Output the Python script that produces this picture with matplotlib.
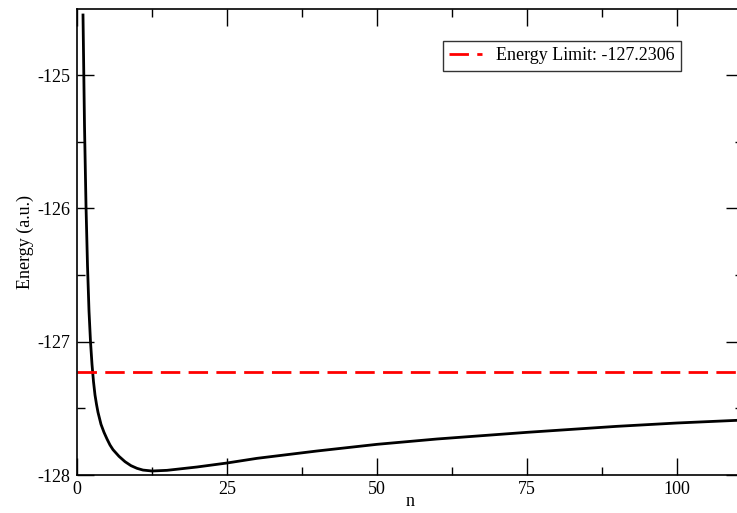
import matplotlib
matplotlib.use("Agg")
import matplotlib.pyplot as plt
from matplotlib.ticker import MultipleLocator

plt.rcParams['font.family'] = ['Liberation Serif', 'DejaVu Serif']
plt.rcParams['axes.unicode_minus'] = False

n_values = [1, 1.25, 1.5, 1.75, 2, 2.25, 2.5, 2.75, 3, 3.25, 3.5, 4, 4.5, 5, 5.5, 6, 7,
            8, 9, 10, 11, 12.5, 15, 20, 25, 30, 40, 50, 60, 75, 90, 100, 110]
energy = [-124.55, -125.38, -125.98, -126.43, -126.77, -127.0, -127.17, -127.3, -127.4,
          -127.47, -127.53, -127.62, -127.68, -127.73, -127.775, -127.81, -127.86,
          -127.9, -127.93, -127.95, -127.963, -127.97, -127.965, -127.94, -127.91,
          -127.875, -127.82, -127.77, -127.73, -127.68, -127.635, -127.61, -127.59]
energy_limit = -127.2306
legend_label = "Energy Limit: -127.2306"

W, H = 737, 513
fig = plt.figure(figsize=(W / 100, H / 100), dpi=100)
ax = fig.add_axes([77 / W, 1 - 475 / H, 666 / W, 466 / H])

ax.plot(n_values, energy, color='black', lw=2, solid_joinstyle='round')
ax.axhline(energy_limit, color='red', lw=2, dashes=(7, 3), label=legend_label)

ax.set_xlim(0, 111)
ax.set_ylim(-128, -124.505)
ax.xaxis.set_major_locator(MultipleLocator(25))
ax.xaxis.set_minor_locator(MultipleLocator(12.5))
ax.yaxis.set_major_locator(MultipleLocator(1))
ax.yaxis.set_minor_locator(MultipleLocator(0.5))
ax.tick_params(which='both', direction='in', top=True, right=True, labelsize=13, width=1)
ax.tick_params(which='major', length=12)
ax.tick_params(which='minor', length=6)
ax.tick_params(axis='x', pad=4)
ax.tick_params(axis='y', pad=5)
for s in ax.spines.values():
    s.set_linewidth(1.2)

ax.set_xlabel('n', fontsize=13, labelpad=-3)
ax.set_ylabel('Energy (a.u.)', fontsize=13, labelpad=2)

leg = ax.legend(loc='upper left', bbox_to_anchor=(443 / W, 1 - 41 / H),
                bbox_transform=fig.transFigure, fontsize=13, frameon=True,
                fancybox=False, handlelength=1.8, handletextpad=0.8,
                borderpad=0.35, borderaxespad=0)
leg.get_frame().set_edgecolor('black')
leg.get_frame().set_linewidth(1)

fig.savefig('out.png', dpi=100)
